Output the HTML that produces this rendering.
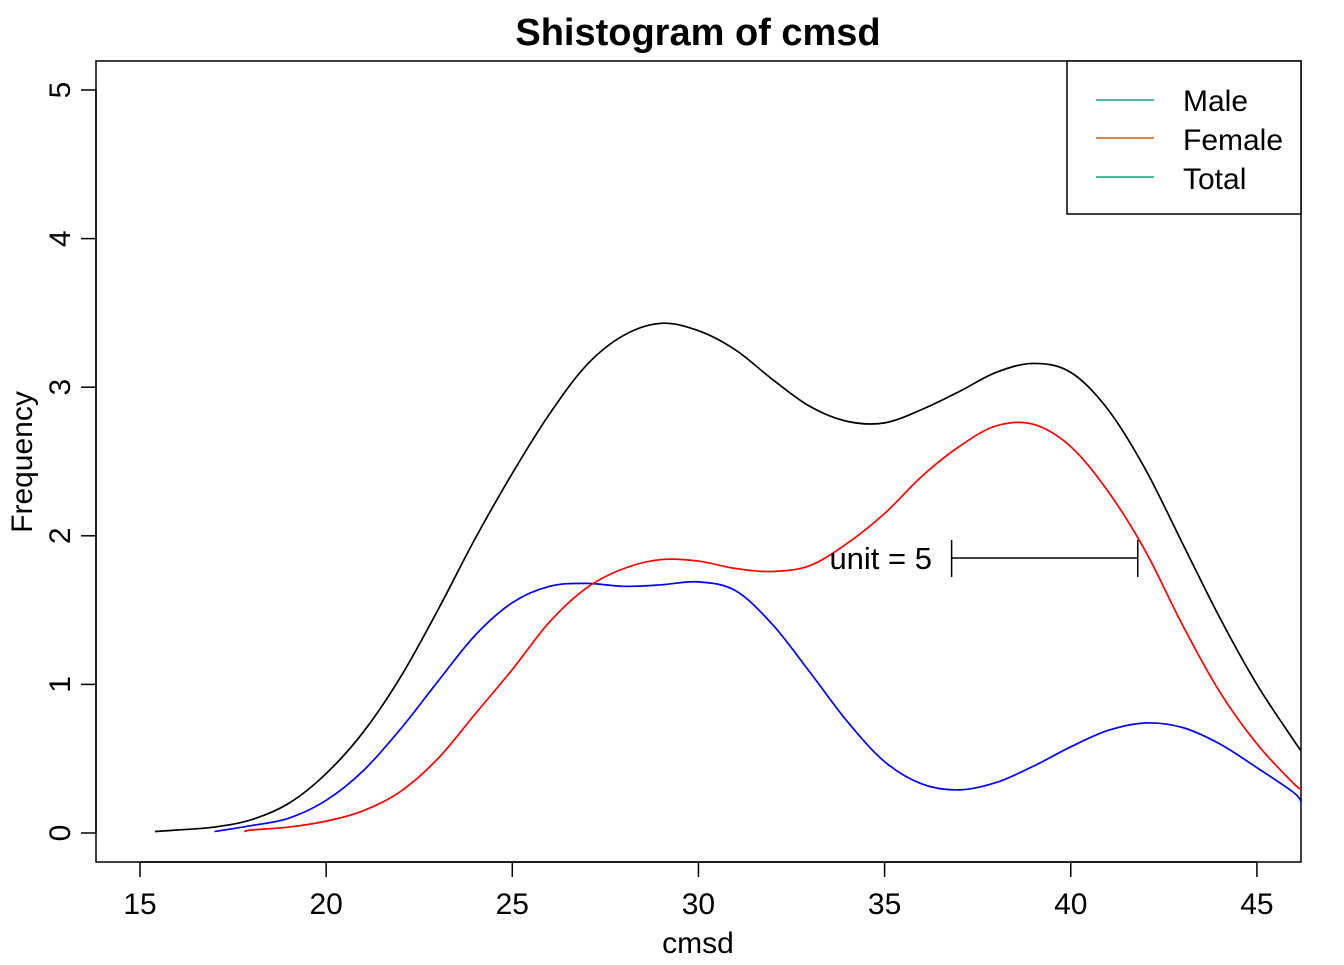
<!DOCTYPE html>
<html><head><meta charset="utf-8"><style>
body{margin:0;background:#fff}
svg text{font-family:"Liberation Sans",Arial,sans-serif}
</style></head><body>
<svg id="chart" width="1344" height="960" viewBox="0 0 1344 960">
<defs><clipPath id="clip"><rect x="96" y="61" width="1205" height="801"/></clipPath></defs>
<text x="698" y="45" text-anchor="middle" font-size="38" font-weight="bold">Shistogram of cmsd</text>
<rect x="96" y="61" width="1205" height="801" fill="none" stroke="#000" stroke-width="1.5"/>
<g id="xaxis"></g>
<g id="yaxis"></g>
<text x="698" y="953" text-anchor="middle" font-size="30">cmsd</text>
<text transform="translate(32,462) rotate(-90)" text-anchor="middle" font-size="30">Frequency</text>
<g id="series" clip-path="url(#clip)"></g>
<g>
<text x="932" y="569" text-anchor="end" font-size="31">unit = 5</text>
<line id="unitbar" y1="558" y2="558" stroke="#000" stroke-width="1.5"/>
<line id="unitL" y1="540" y2="577" stroke="#000" stroke-width="1.5"/>
<line id="unitR" y1="540" y2="577" stroke="#000" stroke-width="1.5"/>
</g>
<g>
<rect x="1067" y="61" width="234" height="153" fill="#fff" stroke="#000" stroke-width="1.5"/>
<line x1="1096" x2="1154" y1="100" y2="100" stroke="#1b9e77" stroke-width="1.5"/>
<text x="1183" y="111" font-size="30">Male</text>
<line x1="1096" x2="1154" y1="138" y2="138" stroke="#d95f02" stroke-width="1.5"/>
<text x="1183" y="150" font-size="30">Female</text>
<line x1="1096" x2="1154" y1="177" y2="177" stroke="#1b9e77" stroke-width="1.5"/>
<text x="1183" y="189" font-size="30">Total</text>
</g>
</svg>
<script>
const xTicks=[15,20,25,30,35,40,45];
const yTicks=[0,1,2,3,4,5];
const totalX=[15.4,16,17,18,19,20,21,22,23,24,25,26,27,28,29,30,31,32,33,34,35,36,37,38,39,40,41,42,43,44,45,46,46.2];
const totalY=[0.01,0.02,0.04,0.09,0.2,0.4,0.68,1.05,1.5,1.98,2.42,2.82,3.15,3.35,3.43,3.38,3.25,3.05,2.87,2.77,2.76,2.85,2.97,3.1,3.16,3.1,2.85,2.45,1.95,1.45,1.0,0.62,0.55];
const maleX=[17,18,19,20,21,22,23,24,25,26,27,28,29,30,31,32,33,34,35,36,37,38,39,40,41,42,43,44,45,46,46.2];
const maleY=[0.01,0.05,0.1,0.22,0.42,0.7,1.02,1.33,1.55,1.66,1.68,1.66,1.67,1.69,1.63,1.4,1.08,0.75,0.48,0.33,0.29,0.34,0.45,0.58,0.69,0.74,0.71,0.6,0.44,0.27,0.2];
const femaleX=[17.8,18,19,20,21,22,23,24,25,26,27,28,29,30,31,32,33,34,35,36,37,38,39,40,41,42,43,44,45,46,46.2];
const femaleY=[0.01,0.02,0.04,0.08,0.15,0.28,0.5,0.8,1.1,1.42,1.65,1.78,1.84,1.83,1.78,1.76,1.8,1.95,2.15,2.4,2.6,2.74,2.75,2.6,2.3,1.9,1.4,0.95,0.6,0.33,0.3];
const unitStart=36.8, unitLen=5;
const xs=v=>140+(v-15)*37.23;
const ys=v=>833-v*148.6;
const NS="http://www.w3.org/2000/svg";
function mk(t,a,p){const e=document.createElementNS(NS,t);for(const k in a)e.setAttribute(k,a[k]);p.appendChild(e);return e;}
const xa=document.getElementById('xaxis'), ya=document.getElementById('yaxis');
mk('line',{x1:xs(15),x2:xs(45),y1:862,y2:862,stroke:'#000','stroke-width':1.5},xa);
xTicks.forEach(t=>{
 const l=mk('line',{x1:xs(t),x2:xs(t),y1:862,y2:877,stroke:'#000','stroke-width':1.5},xa);
 
 
 const tx=mk('text',{x:xs(t),y:914,'text-anchor':'middle','font-size':30},xa);tx.textContent=t;
 
 
});
mk('line',{x1:96,x2:96,y1:ys(0),y2:ys(5),stroke:'#000','stroke-width':1.5},ya);
yTicks.forEach(t=>{
 const l=mk('line',{x1:81,x2:96,y1:ys(t),y2:ys(t),stroke:'#000','stroke-width':1.5},ya);
 
 
 const tx=mk('text',{transform:`translate(70,${ys(t)}) rotate(-90)`,'text-anchor':'middle','font-size':30},ya);tx.textContent=t;
 
 
});
function path(X,Y){const p=X.map((x,i)=>[xs(x),ys(Y[i])]);let d=`M${p[0][0]},${p[0][1]}`;
 for(let i=0;i<p.length-1;i++){const p0=p[i-1]||p[i],p1=p[i],p2=p[i+1],p3=p[i+2]||p2;
 d+=` C${p1[0]+(p2[0]-p0[0])/6},${p1[1]+(p2[1]-p0[1])/6} ${p2[0]-(p3[0]-p1[0])/6},${p2[1]-(p3[1]-p1[1])/6} ${p2[0]},${p2[1]}`;}return d;}
const sg=document.getElementById('series');
let e=mk('path',{d:path(totalX,totalY),fill:'none',stroke:'#000','stroke-width':1.7},sg);


e=mk('path',{d:path(maleX,maleY),fill:'none',stroke:'#0000ff','stroke-width':1.7},sg);


e=mk('path',{d:path(femaleX,femaleY),fill:'none',stroke:'#ff0000','stroke-width':1.7},sg);


const a=xs(unitStart),b=xs(unitStart+unitLen);
const ub=document.getElementById('unitbar');ub.setAttribute('x1',a);ub.setAttribute('x2',b);
const ul=document.getElementById('unitL');ul.setAttribute('x1',a);ul.setAttribute('x2',a);
const ur=document.getElementById('unitR');ur.setAttribute('x1',b);ur.setAttribute('x2',b);
</script>
</body></html>
